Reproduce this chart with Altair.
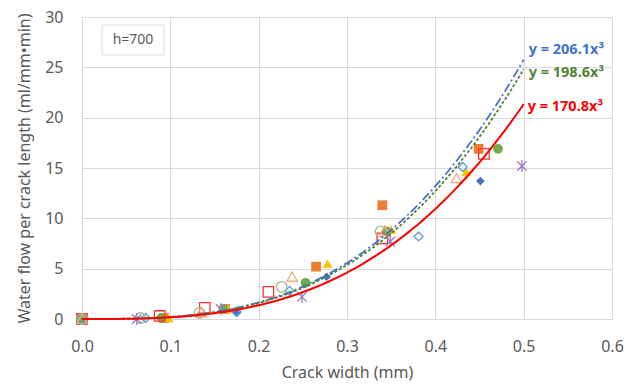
import altair as alt
import pandas as pd

# ---- data ----
series_names = ["S1", "S2", "S3", "S4", "S5", "S6", "S7", "S8", "S9"]

s1_x = [0.0, 0.088, 0.175, 0.277, 0.347, 0.451]
s1_y = [0.0, 0.1, 0.6, 4.2, 8.6, 13.7]
s2_x = [0.0, 0.093, 0.162, 0.265, 0.340, 0.449]
s2_y = [0.0, 0.1, 1.0, 5.2, 11.3, 16.9]
s3_x = [0.0, 0.098, 0.165, 0.278, 0.350, 0.435]
s3_y = [0.0, 0.1, 1.0, 5.5, 8.9, 14.6]
s4_x = [0.0, 0.090, 0.160, 0.253, 0.345, 0.471]
s4_y = [0.0, 0.1, 1.0, 3.6, 8.7, 16.9]
s5_x = [0.0, 0.088, 0.139, 0.211, 0.340, 0.455]
s5_y = [0.0, 0.3, 1.1, 2.7, 8.0, 16.4]
s6_x = [0.0, 0.072, 0.175, 0.235, 0.381, 0.431]
s6_y = [0.0, 0.1, 0.7, 2.8, 8.2, 15.1]
s7_x = [0.0, 0.135, 0.238, 0.343, 0.424]
s7_y = [0.0, 0.7, 4.2, 8.8, 14.0]
s8_x = [0.0, 0.066, 0.133, 0.226, 0.338]
s8_y = [0.0, 0.1, 0.6, 3.2, 8.7]
s9_x = [0.062, 0.157, 0.249, 0.349, 0.498]
s9_y = [0.0, 1.0, 2.2, 7.7, 15.2]

fit_coefs = [206.1, 198.6, 170.8]
fit_labels = ["y = 206.1x³", "y = 198.6x³", "y = 170.8x³"]
x_ticks = [0.0, 0.1, 0.2, 0.3, 0.4, 0.5, 0.6]
y_ticks = [0, 5, 10, 15, 20, 25, 30]
box_label = "h=700"

# ---- styles ----
ASTER = "M-1,-1L1,1M-1,1L1,-1M0,-1.25L0,1.25"
styles = [
    dict(shape="diamond", color="#4472C4", filled=True, size=75),
    dict(shape="square", color="#ED7D31", filled=True, size=95),
    dict(shape="triangle-up", color="#FFC000", filled=True, size=95),
    dict(shape="circle", color="#70AD47", filled=True, size=95),
    dict(shape="square", color="#FF3030", filled=False, size=110),
    dict(shape="diamond", color="#5B9BD5", filled=False, size=80),
    dict(shape="triangle-up", color="#F4A77A", filled=False, size=110),
    dict(shape="circle", color="#9DB884", filled=False, size=110),
    dict(shape=ASTER, color="#9E7BC7", filled=False, size=90),
]
xs = [s1_x, s2_x, s3_x, s4_x, s5_x, s6_x, s7_x, s8_x, s9_x]
ys = [s1_y, s2_y, s3_y, s4_y, s5_y, s6_y, s7_y, s8_y, s9_y]

FONT = "Noto Sans"
GRID = "#D9D9D9"
TXT = "#595959"

xscale = alt.Scale(domain=[0, 0.6], nice=False)
yscale = alt.Scale(domain=[0, 30], nice=False)

xaxis = alt.Axis(values=x_ticks, format=".1f", title="Crack width (mm)",
                 grid=True, gridColor=GRID, domain=False, ticks=False, labelFlush=False,
                 labelPadding=19, labelFontSize=16, labelColor=TXT, labelFont=FONT,
                 titleFontSize=16, titleColor=TXT, titleFont=FONT, titleFontWeight="normal",
                 titlePadding=10)
yaxis = alt.Axis(values=y_ticks, title="Water flow per crack length (ml/mm•min)",
                 grid=True, gridColor=GRID, domain=False, ticks=False,
                 labelPadding=19, labelFontSize=16, labelColor=TXT, labelFont=FONT,
                 titleFontSize=16, titleColor=TXT, titleFont=FONT, titleFontWeight="normal",
                 titlePadding=12)

layers = []
for i, (sx, sy, st) in enumerate(zip(xs, ys, styles)):
    df = pd.DataFrame({"x": sx, "y": sy, "s": series_names[i]})
    kw = dict(shape=st["shape"], size=st["size"], opacity=1)
    if st["filled"]:
        m = alt.Chart(df).mark_point(filled=True, fill=st["color"], color=st["color"], strokeWidth=0, **kw)
    else:
        m = alt.Chart(df).mark_point(filled=False, stroke=st["color"], strokeWidth=1.3, **kw)
    if i == 0:
        enc = m.encode(x=alt.X("x:Q", scale=xscale, axis=xaxis),
                       y=alt.Y("y:Q", scale=yscale, axis=yaxis))
    else:
        enc = m.encode(x=alt.X("x:Q", scale=xscale), y=alt.Y("y:Q", scale=yscale))
    layers.append(enc)

curve_styles = [
    dict(color="#4472C4", strokeDash=[9, 3, 2, 3], strokeWidth=1.8),
    dict(color="#548235", strokeDash=[3, 2], strokeWidth=1.8),
    dict(color="#FF0000", strokeWidth=2),
]
for c, cs in zip(fit_coefs, curve_styles):
    line = (alt.Chart(alt.sequence(0, 0.5001, 0.005, as_="x"))
            .transform_calculate(y=f"{c} * pow(datum.x, 3)")
            .mark_line(**cs)
            .encode(x=alt.X("x:Q", scale=xscale), y=alt.Y("y:Q", scale=yscale)))
    layers.append(line)

label_offsets = [(5, -10), (5, 3.5), (4, 2.5)]
label_colors = ["#4472C4", "#548235", "#FF0000"]
for c, lab, (dx, dy), col in zip(fit_coefs, fit_labels, label_offsets, label_colors):
    df = pd.DataFrame({"x": [0.5], "c": [c], "t": [lab]})
    t = (alt.Chart(df)
         .transform_calculate(y="datum.c * pow(datum.x, 3)")
         .mark_text(align="left", baseline="middle", dx=dx, dy=dy, font=FONT,
                    fontSize=14.5, fontWeight="bold", color=col)
         .encode(x=alt.X("x:Q", scale=xscale), y=alt.Y("y:Q", scale=yscale), text="t:N"))
    layers.append(t)

box = alt.Chart(alt.Data(values=[{}])).mark_rect(fill="white", stroke=GRID, strokeWidth=1).encode(
    x=alt.value(20), x2=alt.value(82), y=alt.value(8), y2=alt.value(38))
boxtext = alt.Chart(alt.Data(values=[{"t": box_label}])).mark_text(
    font=FONT, fontSize=14, color=TXT, align="center", baseline="middle").encode(
    x=alt.value(51), y=alt.value(23), text="t:N")

chart = alt.layer(*layers, box, boxtext).properties(
    width=530, height=302,
    padding={"left": 82, "top": 17, "right": 20, "bottom": 68},
    autosize=alt.AutoSizeParams(type="none"),
).configure_view(stroke=None).configure(background="white")

chart.save("out.html", embed_options={"renderer": "svg", "actions": False})
